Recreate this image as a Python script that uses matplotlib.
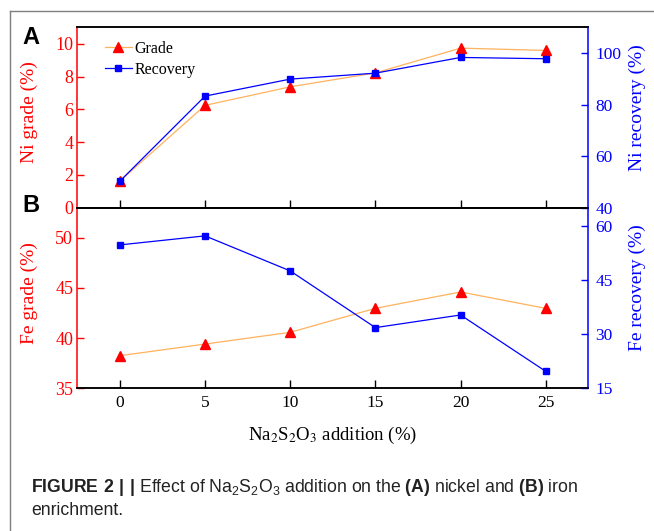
"""
Na2S2O3 addition vs Ni / Fe enrichment (two stacked panels, twin y axes).
Output: out.png
"""

import matplotlib.pyplot as plt
from matplotlib.lines import Line2D

# ── Data ───────────────────────────────────────────────────────────────────
na2s2o3 = [0, 5, 10, 15, 20, 25]
ni_grade = [1.63, 6.24, 7.37, 8.22, 9.73, 9.59]
ni_recovery = [50.3, 83.3, 89.9, 92.2, 98.3, 97.8]
fe_grade = [38.25, 39.41, 40.58, 42.97, 44.6, 42.97]
fe_recovery = [54.7, 57.2, 47.5, 31.8, 35.3, 19.7]

ni_grade_ticks = [0, 2, 4, 6, 8, 10]
ni_rec_ticks = [40, 60, 80, 100]
fe_grade_ticks = [35, 40, 45, 50]
fe_rec_ticks = [15, 30, 45, 60]

# ── Style ──────────────────────────────────────────────────────────────────
W, H = 654, 531
plt.rcParams["font.family"] = ["Liberation Serif", "DejaVu Serif"]
plt.rcParams["font.size"] = 12
plt.rcParams["mathtext.fontset"] = "custom"
plt.rcParams["mathtext.rm"] = "Liberation Sans"
plt.rcParams["mathtext.bf"] = "Liberation Sans:bold"

RED = "#ff0000"
BLUE = "#0000ff"
ORANGE = "#ffb25e"

fig = plt.figure(figsize=(W / 100, H / 100), dpi=100)


def px(x0, y0, x1, y1):
    return [x0 / W, 1 - y1 / H, (x1 - x0) / W, (y1 - y0) / H]


ax_a = fig.add_axes(px(77.3, 27.3, 588.3, 207.7))
ax_b = fig.add_axes(px(77.3, 207.7, 588.3, 388.3), sharex=ax_a)
ax_a2 = ax_a.twinx()
ax_b2 = ax_b.twinx()


def style_pair(ax, ax2):
    for s in ("top", "bottom"):
        ax.spines[s].set_color("black")
        ax.spines[s].set_linewidth(1.1)
        ax2.spines[s].set_color("black")
        ax2.spines[s].set_linewidth(1.1)
    ax.spines["left"].set_color(RED)
    ax.spines["left"].set_linewidth(1.1)
    ax.spines["right"].set_visible(False)
    ax2.spines["left"].set_visible(False)
    ax2.spines["right"].set_color(BLUE)
    ax2.spines["right"].set_linewidth(1.1)
    ax.tick_params(axis="y", direction="in", colors=RED, length=5,
                   width=1, pad=3, labelsize=13)
    ax2.tick_params(axis="y", direction="in", colors=BLUE, length=5,
                    width=1, pad=5, labelsize=12.5)
    ax.tick_params(axis="x", direction="in", length=6, width=1,
                   top=False, pad=5, labelsize=12.5)
    ax.yaxis.label.set_color(RED)
    ax2.yaxis.label.set_color(BLUE)


def draw(ax, ax2, grade, rec):
    ax.plot(na2s2o3, grade, color=ORANGE, lw=0.9, marker="^",
            markerfacecolor=RED, markeredgecolor=RED, markersize=6.5,
            label="Grade")
    ax2.plot(na2s2o3, rec, color=BLUE, lw=0.9, marker="s",
             markerfacecolor=BLUE, markeredgecolor=BLUE, markersize=5,
             label="Recovery")


# ── Panel A (nickel) ───────────────────────────────────────────────────────
draw(ax_a, ax_a2, ni_grade, ni_recovery)
style_pair(ax_a, ax_a2)
ax_a.set_xlim(-2.5, 27.5)
ax_a.set_xticks(na2s2o3)
ax_a.tick_params(axis="x", labelbottom=False)
ax_a.set_ylim(0, 11)
ax_a.set_yticks(ni_grade_ticks)
ax_a2.set_ylim(40, 110)
ax_a2.set_yticks(ni_rec_ticks)
ax_a.set_ylabel("Ni grade (%)", fontsize=14)
ax_a2.set_ylabel("Ni recovery (%)", fontsize=14)
ax_a.yaxis.set_label_coords(-0.077, 0.528)
ax_a2.yaxis.set_label_coords(1.08, 0.553)

h1, l1 = ax_a.get_legend_handles_labels()
h2, l2 = ax_a2.get_legend_handles_labels()
ax_a2.legend(h1 + h2, l1 + l2, loc="upper left",
             bbox_to_anchor=(0.054, 0.925), frameon=False, fontsize=11.5,
             handlelength=1.7, handletextpad=0.15, labelspacing=0.3,
             borderpad=0, borderaxespad=0)

# ── Panel B (iron) ─────────────────────────────────────────────────────────
draw(ax_b, ax_b2, fe_grade, fe_recovery)
style_pair(ax_b, ax_b2)
ax_b.set_ylim(35, 53)
ax_b.set_yticks(fe_grade_ticks)
ax_b2.set_ylim(15, 65)
ax_b2.set_yticks(fe_rec_ticks)
ax_b.set_ylabel("Fe grade (%)", fontsize=14)
ax_b2.set_ylabel("Fe recovery (%)", fontsize=14)
ax_b.yaxis.set_label_coords(-0.077, 0.530)
ax_b2.yaxis.set_label_coords(1.08, 0.555)
ax_b.set_xlabel(r"Na$_2$S$_2$O$_3$ addition (%)", fontsize=13.5,
                math_fontfamily="stix")
ax_b.xaxis.label.set_va("center")
ax_b.xaxis.set_label_coords(0.5, -0.259)

# ── Panel letters, frame, caption ──────────────────────────────────────────
for letter, yy in (("A", 38), ("B", 205)):
    fig.text(31 / W, 1 - yy / H, letter, family="Liberation Sans",
             fontweight="bold", fontsize=17, ha="center", va="center")

fig.add_artist(Line2D([10 / W, 10 / W], [0, 1 - 10.5 / H],
                      transform=fig.transFigure, color="#7f7f7f", lw=1.0))
fig.add_artist(Line2D([10 / W, 1], [1 - 10.5 / H, 1 - 10.5 / H],
                      transform=fig.transFigure, color="#7f7f7f", lw=1.0))

cap_font = "Liberation Sans"
fig.text(31 / W, 1 - 492 / H,
         r"$\mathbf{FIGURE\ 2\ |\ |}$ Effect of Na$_2$S$_2$O$_3$ addition "
         r"on the $\mathbf{(A)}$ nickel and $\mathbf{(B)}$ iron",
         family=cap_font, fontsize=12.7, color="#222222", va="baseline",
         math_fontfamily="custom")
fig.text(31 / W, 1 - 515 / H, "enrichment.", family=cap_font,
         fontsize=12.7, color="#222222", va="baseline")

fig.savefig("out.png", dpi=100)
plt.close(fig)
